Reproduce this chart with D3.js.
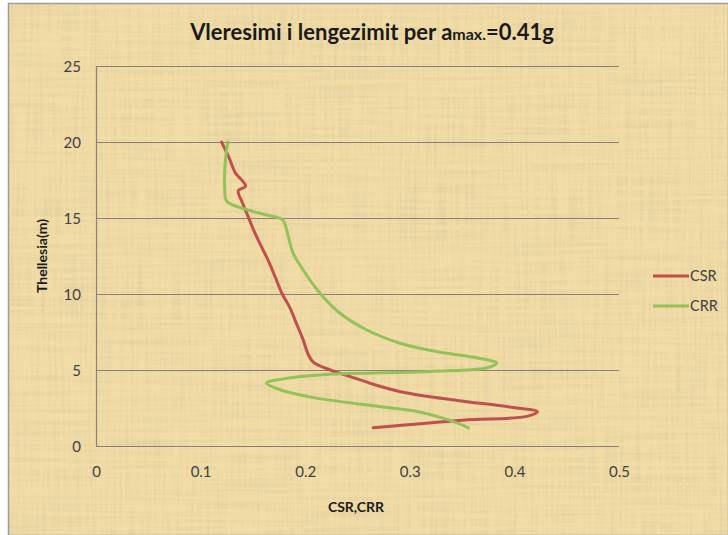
<!DOCTYPE html>
<html>
<head>
<meta charset="utf-8">
<script src="https://cdn.jsdelivr.net/npm/d3@7"></script>
<style>
  html, body { margin: 0; padding: 0; background: #fff; }
  svg { display: block; }
  text { font-family: Lato, "Open Sans", sans-serif; }
</style>
</head>
<body>
<script>
// Depth (m) and ratio values for each series
const csrDepth = [20, 19, 18, 17.1, 16.8, 16, 15, 14, 13, 12, 11, 10, 9.4, 9, 8, 7, 6, 5.5, 5, 4.5, 4, 3.5, 3, 2.55, 2.25, 1.95, 1.7, 1.2];
const csrValue = [0.12, 0.127, 0.133, 0.143, 0.136, 0.14, 0.146, 0.152, 0.159, 0.166, 0.172, 0.178, 0.183, 0.186, 0.192, 0.198, 0.203, 0.208, 0.224, 0.246, 0.268, 0.296, 0.345, 0.397, 0.422, 0.412, 0.35, 0.265];

const crrDepth = [20, 19, 18, 17, 16.1, 15.6, 15.2, 14.9, 14.54, 13.75, 12.76, 11.58, 10.07, 8.75, 7.63, 6.78, 6.18, 5.79, 5.45, 5.15, 4.9, 4.7, 4.4, 4.14, 3.7, 3.2, 2.6, 2.3, 1.7, 1.2];
const crrValue = [0.126, 0.124, 0.123, 0.123, 0.125, 0.142, 0.163, 0.178, 0.181, 0.184, 0.188, 0.198, 0.214, 0.233, 0.259, 0.29, 0.328, 0.365, 0.383, 0.374, 0.32, 0.22, 0.178, 0.163, 0.176, 0.207, 0.27, 0.305, 0.338, 0.356];

const seriesNames = ["CSR", "CRR"];
const seriesColors = ["#c0504d", "#93c25a"];
const xTicks = [0, 0.1, 0.2, 0.3, 0.4, 0.5];
const yTicks = [0, 5, 10, 15, 20, 25];

const W = 728, H = 535;
const svg = d3.select("body").append("svg").attr("width", W).attr("height", H);
const defs = svg.append("defs");

// Papyrus-like fibre texture
const f = defs.append("filter").attr("id", "papyrus").attr("x", 0).attr("y", 0).attr("width", 1).attr("height", 1);
f.append("feTurbulence").attr("type", "fractalNoise").attr("baseFrequency", "0.35 0.012").attr("numOctaves", 2).attr("seed", 3).attr("result", "v");
f.append("feTurbulence").attr("type", "fractalNoise").attr("baseFrequency", "0.01 0.3").attr("numOctaves", 2).attr("seed", 7).attr("result", "h");
f.append("feComposite").attr("in", "v").attr("in2", "h").attr("operator", "arithmetic").attr("k2", 0.5).attr("k3", 0.5).attr("result", "n");
f.append("feColorMatrix").attr("in", "n").attr("type", "matrix")
  .attr("values", "0 0 0 0 0.62  0 0 0 0 0.52  0 0 0 0 0.32  2.2 0 0 0 -0.95");

// Chart frame and background
svg.append("rect").attr("x", 8.5).attr("y", 3.5).attr("width", W - 8).attr("height", H - 3).attr("fill", "#f1dca6").attr("stroke", "#9a9aa6").attr("stroke-width", 1.5);
svg.append("rect").attr("x", 9).attr("y", 4).attr("width", W - 9).attr("height", H - 4).attr("filter", "url(#papyrus)").attr("opacity", 0.55);

const x = d3.scaleLinear().domain([0, 0.5]).range([96, 619]);
const y = d3.scaleLinear().domain([0, 25]).range([446, 66]);

// Horizontal gridlines
svg.append("g").selectAll("line").data(yTicks).join("line")
  .attr("x1", x(0)).attr("x2", x(0.5))
  .attr("y1", d => y(d) + 0.5).attr("y2", d => y(d) + 0.5)
  .attr("stroke", "#8a8279").attr("stroke-width", 1.2);

// Left axis line
svg.append("line").attr("x1", x(0) + 0.5).attr("x2", x(0) + 0.5).attr("y1", y(25)).attr("y2", y(0))
  .attr("stroke", "#8a8279").attr("stroke-width", 1.2);

// Y axis
const yAxis = svg.append("g").attr("transform", `translate(${x(0)},0)`)
  .call(d3.axisLeft(y).tickValues(yTicks).tickSize(0).tickPadding(15).tickFormat(d3.format("d")));
yAxis.select(".domain").remove();
yAxis.selectAll("text").attr("font-size", 15).attr("fill", "#404040").attr("font-family", "Lato, sans-serif").attr("dy", "0.35em");

// X axis
const xAxis = svg.append("g").attr("transform", `translate(0,${y(0)})`)
  .call(d3.axisBottom(x).tickValues(xTicks).tickSize(0).tickPadding(20).tickFormat(d => d === 0 ? "0" : d3.format(".1f")(d)));
xAxis.select(".domain").remove();
xAxis.selectAll("text").attr("font-size", 15).attr("fill", "#404040").attr("font-family", "Lato, sans-serif");

// Series lines
const csr = csrDepth.map((d, i) => ({ depth: d, v: csrValue[i] }));
const crr = crrDepth.map((d, i) => ({ depth: d, v: crrValue[i] }));
const line = d3.line().x(d => x(d.v)).y(d => y(d.depth)).curve(d3.curveCatmullRom.alpha(0.5));
[csr, crr].forEach((data, i) => {
  svg.append("path").datum(data).attr("d", line)
    .attr("fill", "none").attr("stroke", seriesColors[i]).attr("stroke-width", 3)
    .attr("stroke-linejoin", "round").attr("stroke-linecap", "round");
});

// Title
const title = svg.append("text").attr("x", 372).attr("y", 40).attr("text-anchor", "middle")
  .attr("font-weight", "bold").attr("font-size", 22).attr("fill", "#1a1a1a");
title.append("tspan").text("Vleresimi i lengezimit per a");
title.append("tspan").attr("font-size", 16).text("max.");
title.append("tspan").text("=0.41g");

// Axis titles
svg.append("text").attr("transform", `translate(47,256) rotate(-90)`)
  .attr("text-anchor", "middle").attr("font-weight", "bold").attr("font-size", 14).attr("fill", "#1a1a1a").text("Thellesia(m)");
svg.append("text").attr("x", 356).attr("y", 512).attr("text-anchor", "middle")
  .attr("font-weight", "bold").attr("font-size", 14).attr("fill", "#1a1a1a").text("CSR,CRR");

// Legend
const legend = svg.append("g");
seriesNames.forEach((name, i) => {
  const ly = 276 + i * 30;
  legend.append("line").attr("x1", 653).attr("x2", 689).attr("y1", ly).attr("y2", ly)
    .attr("stroke", seriesColors[i]).attr("stroke-width", 3);
  legend.append("text").attr("x", 690).attr("y", ly + 5).attr("font-size", 14.5).attr("fill", "#404040").text(name);
});
</script>
</body>
</html>
